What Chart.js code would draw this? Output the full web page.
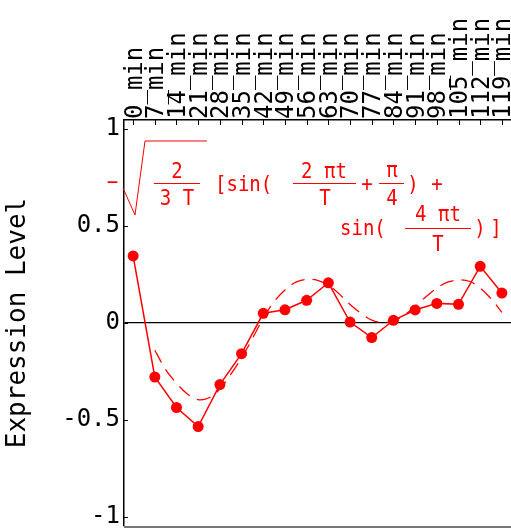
<!DOCTYPE html>
<html>
<head>
<meta charset="utf-8">
<script src="https://cdn.jsdelivr.net/npm/chart.js@4/dist/chart.umd.min.js"></script>
<style>
  html, body { margin: 0; padding: 0; background: #fff; }
  #wrap { width: 511px; height: 529px; }
</style>
</head>
<body>
<div id="wrap"><canvas id="c" width="511" height="529"></canvas></div>
<script>
// sampling times (top axis)
const timeLabels = ['0_min', '7_min', '14_min', '21_min', '28_min', '35_min', '42_min', '49_min', '56_min',
  '63_min', '70_min', '77_min', '84_min', '91_min', '98_min', '105_min', '112_min', '119_min'];

// measured expression, one per time point
const levels = [0.345, -0.278, -0.435, -0.533, -0.317, -0.158, 0.05, 0.068, 0.117,
  0.207, 0.005, -0.075, 0.014, 0.067, 0.101, 0.096, 0.292, 0.154];

// fitted curve (dashed) at half steps
const modelPos = [1, 1.5, 2, 2.5, 3, 3.5, 4, 4.5, 5, 5.5, 6, 6.5, 7, 7.5, 8, 8.5, 9,
  9.5, 10, 10.5, 11, 11.5, 12, 12.5, 13, 13.5, 14, 14.5, 15, 15.5, 16, 16.5, 17];
const modelLevel = [-0.14, -0.24, -0.31, -0.365, -0.395, -0.385, -0.34, -0.265, -0.18, -0.08, 0.025, 0.11, 0.17,
  0.21, 0.225, 0.22, 0.195, 0.15, 0.095, 0.05, 0.015, 0.003, 0.01, 0.04, 0.085, 0.135, 0.18, 0.21, 0.222,
  0.215, 0.18, 0.125, 0.055];

const yTicks = [-1, -0.5, 0, 0.5, 1];
const yTickLabels = ['-1', '-0.5', '0', '0.5', '1'];

const RED = '#ff0000';
const MONO = "'DejaVu Sans Mono', 'Liberation Mono', monospace";

// inside tick marks + bottom frame, like the Mathematica frame
const framePlugin = {
  id: 'frame',
  afterDraw(chart) {
    const { ctx, chartArea: a, scales } = chart;
    ctx.save();
    ctx.strokeStyle = '#000';
    ctx.lineWidth = 1;
    scales.x.ticks.forEach(t => {
      const px = Math.round(scales.x.getPixelForValue(t.value)) + 0.5;
      ctx.beginPath();
      ctx.moveTo(px, a.top);
      ctx.lineTo(px, a.top + 5);
      ctx.stroke();
    });
    scales.y.ticks.forEach(t => {
      const py = Math.round(scales.y.getPixelForValue(t.value)) + 0.5;
      ctx.beginPath();
      ctx.moveTo(a.left, py);
      ctx.lineTo(a.left + 4, py);
      ctx.stroke();
    });
    ctx.strokeStyle = '#777';
    ctx.lineWidth = 2;
    ctx.beginPath();
    ctx.moveTo(a.left, a.bottom + 1);
    ctx.lineTo(a.right, a.bottom + 1);
    ctx.stroke();
    ctx.restore();
  }
};

// the model formula written in red over the plot
const formulaPlugin = {
  id: 'formula',
  afterDraw(chart) {
    const ctx = chart.ctx;
    ctx.save();
    ctx.fillStyle = RED;
    ctx.strokeStyle = RED;
    ctx.lineWidth = 1;
    ctx.font = '19px ' + MONO;
    ctx.textBaseline = 'alphabetic';

    // glyphs in the original are a bit taller than wide
    const txt = (s, x, y, align = 'center') => {
      ctx.save();
      ctx.textAlign = align;
      ctx.translate(x, y);
      ctx.scale(1, 1.12);
      ctx.fillText(s, 0, 0);
      ctx.restore();
    };
    const bar = (x1, x2, y) => {
      ctx.beginPath();
      ctx.moveTo(x1, y + 0.5);
      ctx.lineTo(x2, y + 0.5);
      ctx.stroke();
    };

    txt('\u2212', 112.5, 189);
    ctx.beginPath();
    ctx.moveTo(123, 188);
    ctx.lineTo(135, 215);
    ctx.lineTo(145, 141);
    ctx.lineTo(207, 141);
    ctx.stroke();

    txt('2', 177, 178);
    bar(154, 200, 183);
    txt('3 T', 177, 205);

    txt('[sin(', 215, 191, 'left');

    txt('2 \u03c0t', 324, 178);
    bar(293, 356, 183);
    txt('T', 325, 205);
    txt('+', 367, 191);

    txt('\u03c0', 392, 177);
    bar(379, 404, 183);
    txt('4', 392, 205);
    txt(')', 413, 191);
    txt('+', 437, 191);

    txt('sin(', 340, 235, 'left');
    txt('4 \u03c0t', 438, 221);
    bar(405, 471, 228);
    txt('T', 438, 251);
    txt(')', 480, 235);
    txt(']', 496, 235);
    ctx.restore();
  }
};

new Chart(document.getElementById('c'), {
  type: 'line',
  data: {
    datasets: [
      {
        data: levels.map((v, i) => ({ x: i, y: v })),
        borderColor: RED,
        backgroundColor: RED,
        borderWidth: 1.5,
        pointRadius: 5.5,
        pointBorderWidth: 0,
        pointBackgroundColor: RED,
        tension: 0,
      },
      {
        data: modelPos.map((p, i) => ({ x: p, y: modelLevel[i] })),
        borderColor: RED,
        borderWidth: 1.3,
        borderDash: [14, 8],
        pointRadius: 0,
        tension: 0.35,
      },
    ],
  },
  options: {
    responsive: false,
    animation: false,
    layout: { autoPadding: false, padding: { bottom: 3, right: 0 } },
    plugins: { legend: { display: false }, tooltip: { enabled: false } },
    scales: {
      x: {
        type: 'linear',
        position: 'top',
        min: -0.42,
        max: 17.42,
        grid: { drawOnChartArea: false, drawTicks: false },
        border: { display: true, color: '#000', width: 1.5 },
        ticks: {
          autoSkip: false,
          minRotation: 90,
          maxRotation: 90,
          padding: 1,
          labelOffset: 31,
          color: '#000',
          font: { family: MONO, size: 24 },
          callback: v => timeLabels[v],
        },
        afterBuildTicks: s => { s.ticks = timeLabels.map((_, i) => ({ value: i })); },
        afterFit: s => { s.height = 120; s.paddingLeft = 0; s.paddingRight = 0; },
      },
      y: {
        min: -1.045,
        max: 1.045,
        grid: {
          drawTicks: false,
          lineWidth: 1.2,
          color: c => (c.tick && c.tick.value === 0 ? '#000' : 'rgba(0,0,0,0)'),
        },
        border: { display: true, color: '#000', width: 1.5 },
        ticks: {
          padding: 4,
          color: '#000',
          font: { family: MONO, size: 24 },
          callback: v => yTickLabels[yTicks.indexOf(v)],
        },
        afterBuildTicks: s => { s.ticks = yTicks.map(v => ({ value: v })); },
        title: {
          display: true,
          text: 'Expression Level',
          color: '#000',
          padding: { top: 3, bottom: 0 },
          font: { family: MONO, size: 26 },
        },
        afterFit: s => { s.width = 124; s.paddingTop = 0; s.paddingBottom = 0; },
      },
    },
  },
  plugins: [framePlugin, formulaPlugin],
});
</script>
</body>
</html>
